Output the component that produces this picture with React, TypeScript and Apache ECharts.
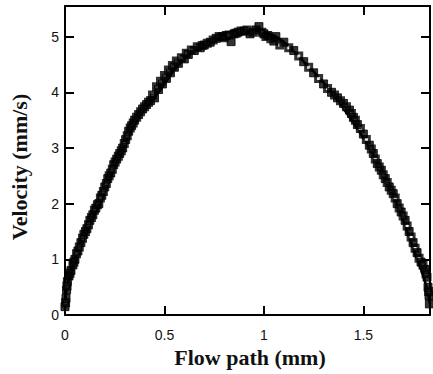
import React, { useEffect, useRef } from "react";
import * as echarts from "echarts";

// Measured data points, run A — filled squares (flow path in mm, velocity in mm/s)
const flowPath = [
  0.0, 0.005, 0.008, 0.012, 0.02, 0.03, 0.04, 0.05, 0.065, 0.08, 0.095, 0.11, 0.125, 0.14, 0.155,
  0.17, 0.185, 0.2, 0.215, 0.23, 0.245, 0.26, 0.275, 0.29, 0.305, 0.32, 0.335, 0.35, 0.37, 0.39,
  0.41, 0.43, 0.45, 0.47, 0.49, 0.51, 0.53, 0.55, 0.57, 0.6, 0.62, 0.65, 0.68, 0.7, 0.73, 0.76,
  0.79, 0.81, 0.835, 0.85, 0.87, 0.9, 0.93, 0.96, 0.975, 1.0, 1.02, 1.05, 1.06, 1.1, 1.15, 1.2,
  1.25, 1.3, 1.34, 1.37, 1.4, 1.43, 1.45, 1.47, 1.5, 1.53, 1.55, 1.57, 1.59, 1.61, 1.63, 1.65,
  1.67, 1.69, 1.71, 1.73, 1.75, 1.77, 1.79, 1.81, 1.82, 1.825, 1.83, 1.832,
];
const velocity = [
  0.15, 0.3, 0.45, 0.6, 0.7, 0.8, 0.9, 1.0, 1.15, 1.3, 1.45, 1.55, 1.7, 1.8, 1.92,
  2.0, 2.15, 2.3, 2.45, 2.55, 2.7, 2.8, 2.9, 3.0, 3.15, 3.3, 3.4, 3.5, 3.6, 3.7,
  3.78, 3.85, 3.9, 4.05, 4.15, 4.25, 4.35, 4.45, 4.52, 4.6, 4.68, 4.75, 4.8, 4.85, 4.9, 4.97,
  5.0, 5.02, 4.91, 5.05, 5.08, 5.1, 5.05, 5.12, 5.18, 5.05, 5.02, 4.92, 5.0, 4.9, 4.75, 4.55,
  4.35, 4.15, 4.0, 3.9, 3.8, 3.68, 3.55, 3.42, 3.25, 3.05, 2.9, 2.72, 2.6, 2.45, 2.3, 2.18,
  2.0, 1.85, 1.7, 1.5, 1.3, 1.12, 0.95, 0.82, 0.68, 0.5, 0.35, 0.2,
];

// Measured data points, run B — open squares
const flowPathB = [
  0.003, 0.01, 0.025, 0.045, 0.058, 0.072, 0.088, 0.103, 0.118, 0.133, 0.148, 0.163, 0.178, 0.193,
  0.208, 0.222, 0.238, 0.252, 0.268, 0.283, 0.298, 0.313, 0.328, 0.343, 0.36, 0.38, 0.4, 0.42,
  0.44, 0.46, 0.48, 0.5, 0.52, 0.54, 0.56, 0.585, 0.61, 0.635, 0.665, 0.69, 0.715, 0.745, 0.775,
  0.8, 0.825, 0.86, 0.885, 0.915, 0.945, 0.99, 1.01, 1.035, 1.08, 1.125, 1.175, 1.225, 1.275,
  1.32, 1.355, 1.385, 1.415, 1.44, 1.46, 1.485, 1.515, 1.54, 1.56, 1.58, 1.6, 1.62, 1.64, 1.66,
  1.68, 1.7, 1.72, 1.74, 1.76, 1.78, 1.8, 1.815, 1.828,
];
const velocityB = [
  0.22, 0.52, 0.75, 0.95, 1.1, 1.22, 1.38, 1.5, 1.62, 1.75, 1.88, 1.98, 2.1, 2.22,
  2.36, 2.5, 2.62, 2.75, 2.85, 2.95, 3.08, 3.22, 3.36, 3.45, 3.55, 3.65, 3.74, 3.82,
  3.95, 4.1, 4.2, 4.3, 4.4, 4.48, 4.56, 4.62, 4.7, 4.76, 4.82, 4.84, 4.88, 4.94, 5.0,
  4.98, 5.03, 5.06, 5.1, 5.12, 5.08, 5.08, 5.0, 4.96, 4.85, 4.8, 4.65, 4.45, 4.25,
  4.07, 3.95, 3.85, 3.74, 3.62, 3.5, 3.35, 3.15, 2.98, 2.8, 2.66, 2.52, 2.38, 2.24, 2.1,
  1.92, 1.78, 1.6, 1.4, 1.2, 1.02, 0.9, 0.74, 0.42,
];

// Fitted profile curve
const fitX = [0, 0.01, 0.05, 0.1, 0.175, 0.29, 0.38, 0.47, 0.6, 0.775, 0.91, 1.06, 1.2, 1.34, 1.53, 1.65, 1.76, 1.81, 1.835];
const fitY = [0.1, 0.5, 1.0, 1.5, 2.0, 3.0, 3.6, 4.0, 4.6, 5.0, 5.12, 5.0, 4.55, 4.0, 3.0, 2.15, 1.1, 0.6, 0.2];

const xTicks = [0, 0.5, 1, 1.5];
const yTicks = [0, 1, 2, 3, 4, 5];

export default function App() {
  const ref = useRef<HTMLDivElement>(null);
  useEffect(() => {
    if (!ref.current) return;
    const chart = echarts.init(ref.current, null, { renderer: "svg" });
    const axisLine = { show: true, onZero: false, lineStyle: { color: "#000", width: 2 } };
    const tick = { show: true, inside: true, length: 9, lineStyle: { color: "#000", width: 2 } };
    const labelFont = {
      fontFamily: "Liberation Sans, Arial, sans-serif", fontSize: 14, color: "#111", fontWeight: 500,
    };
    chart.setOption({
      animation: false,
      backgroundColor: "#fff",
      grid: { left: 65, right: 1, top: 6, bottom: 59, show: false },
      xAxis: [
        {
          type: "value", min: 0, max: 1.835, interval: 0.5, position: "bottom",
          axisLine, axisTick: tick, splitLine: { show: false },
          axisLabel: {
            ...labelFont, margin: 13,
            formatter: (v: number) => (xTicks.includes(v) ? String(v) : ""),
          },
        },
        {
          type: "value", min: 0, max: 1.835, interval: 0.5, position: "top",
          axisLine, axisTick: tick, splitLine: { show: false }, axisLabel: { show: false },
        },
      ],
      yAxis: [
        {
          type: "value", min: 0, max: 5.55, interval: 1, position: "left",
          axisLine, axisTick: tick, splitLine: { show: false },
          axisLabel: {
            ...labelFont, margin: 6,
            formatter: (v: number) => (yTicks.includes(v) ? String(v) : ""),
          },
        },
        {
          type: "value", min: 0, max: 5.55, interval: 1, position: "right",
          axisLine, axisTick: tick, splitLine: { show: false }, axisLabel: { show: false },
        },
      ],
      graphic: [
        {
          type: "text", x: 250, y: 357,
          style: {
            text: "Flow path (mm)", textAlign: "center", textVerticalAlign: "middle",
            font: "bold 22px 'Liberation Serif', 'Times New Roman', serif", fill: "#111",
          },
        },
        {
          type: "text", x: 19, y: 167, rotation: Math.PI / 2,
          style: {
            text: "Velocity (mm/s)", textAlign: "center", textVerticalAlign: "middle",
            font: "bold 22px 'Liberation Serif', 'Times New Roman', serif", fill: "#111",
          },
        },
      ],
      series: [
        {
          type: "line", smooth: 0.4, showSymbol: false, z: 2,
          data: fitX.map((x, i) => [x, fitY[i]]),
          lineStyle: { color: "#000", width: 2.5 },
        },
        {
          type: "scatter", symbol: "rect", symbolSize: 6, z: 3,
          data: flowPathB.map((x, i) => [x, velocityB[i]]),
          itemStyle: { color: "#fff", borderColor: "#000", borderWidth: 3 },
        },
        {
          type: "scatter", symbol: "rect", symbolSize: 8, z: 4,
          data: flowPath.map((x, i) => [x, velocity[i]]),
          itemStyle: { color: "#000", borderColor: "#000", borderWidth: 1 },
        },
      ],
    });
    return () => chart.dispose();
  }, []);
  return (
    <div
      ref={ref}
      style={{ position: "fixed", left: 0, top: 0, width: 433, height: 374, background: "#fff" }}
    />
  );
}
